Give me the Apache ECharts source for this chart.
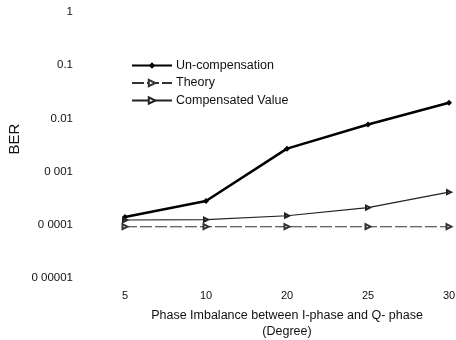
<!DOCTYPE html>
<html><head><meta charset="utf-8">
<script src="https://cdn.jsdelivr.net/npm/echarts@6/dist/echarts.min.js"></script>
<style>html,body{margin:0;padding:0;background:#fff}#c{width:456px;height:340px}</style>
</head><body><div id="c"></div>
<script>
var categories = ['5', '10', '20', '25', '30'];
var unCompensation = [0.00014, 0.00028, 0.0027, 0.0077, 0.0197];
var theory = [0.000092, 0.000092, 0.000092, 0.000092, 0.000092];
var compensated = [0.000123, 0.000125, 0.000148, 0.00021, 0.00041];
var yTickValues = [1, 0.1, 0.01, 0.001, 0.0001, 0.00001];
var yTickLabels = ['1', '0.1', '0.01', '0 001', '0 0001', '0 00001'];

var chart = echarts.init(document.getElementById('c'));
var font = 'Liberation Sans, Arial, sans-serif';
chart.setOption({
  animation: false,
  textStyle: {fontFamily: font},
  legend: {
    orient: 'vertical', left: 126, top: 59, itemWidth: 40, itemHeight: 8, itemGap: 4.5,
    padding: [0, 5],
    textStyle: {fontSize: 12.5, color: '#111', fontFamily: font, padding: [0, 0, 0, -1]},
    data: ['Un-compensation', 'Theory', 'Compensated Value']
  },
  grid: {left: 125, right: 7, top: 12, bottom: 62, outerBoundsMode: 'none', containLabel: false},
  xAxis: {
    type: 'category', data: categories, boundaryGap: false,
    axisLine: {show: false}, axisTick: {show: false}, splitLine: {show: false},
    axisLabel: {margin: 12, fontSize: 11, color: '#111', fontFamily: font},
    name: 'Phase Imbalance between I-phase and Q- phase\n(Degree)',
    nameLocation: 'middle', nameGap: 30, nameMoveOverlap: false,
    nameTextStyle: {fontSize: 12.5, color: '#111', lineHeight: 16, fontFamily: font}
  },
  yAxis: {
    type: 'log', logBase: 10, min: 0.00001, max: 1,
    axisLine: {show: false}, axisTick: {show: false}, splitLine: {show: false},
    axisLabel: {
      margin: 52, fontSize: 11.5, color: '#111', fontFamily: font,
      formatter: function (v) {
        for (var i = 0; i < yTickValues.length; i++) {
          if (Math.abs(Math.log10(v) - Math.log10(yTickValues[i])) < 1e-6) return yTickLabels[i];
        }
        return '';
      }
    },
    name: 'BER', nameLocation: 'middle', nameGap: 103, nameRotate: 90, nameMoveOverlap: false,
    nameTextStyle: {fontSize: 15, color: '#111', fontFamily: font, padding: [0, 0, 0, 12]}
  },
  series: [
    {name: 'Un-compensation', type: 'line', data: unCompensation, symbol: 'diamond', symbolSize: 6,
     lineStyle: {color: '#000', width: 2.5}, itemStyle: {color: '#000'}},
    {name: 'Theory', type: 'line', data: theory, symbol: 'emptyTriangle', symbolSize: 5, symbolRotate: -90,
     lineStyle: {color: '#333', width: 1.2, type: [12, 3]}, itemStyle: {color: '#333', borderWidth: 1}},
    {name: 'Compensated Value', type: 'line', data: compensated, symbol: 'emptyTriangle', symbolSize: 4, symbolRotate: -90,
     lineStyle: {color: '#222', width: 1.2}, itemStyle: {color: '#222', borderWidth: 1}}
  ]
});
</script></body></html>
